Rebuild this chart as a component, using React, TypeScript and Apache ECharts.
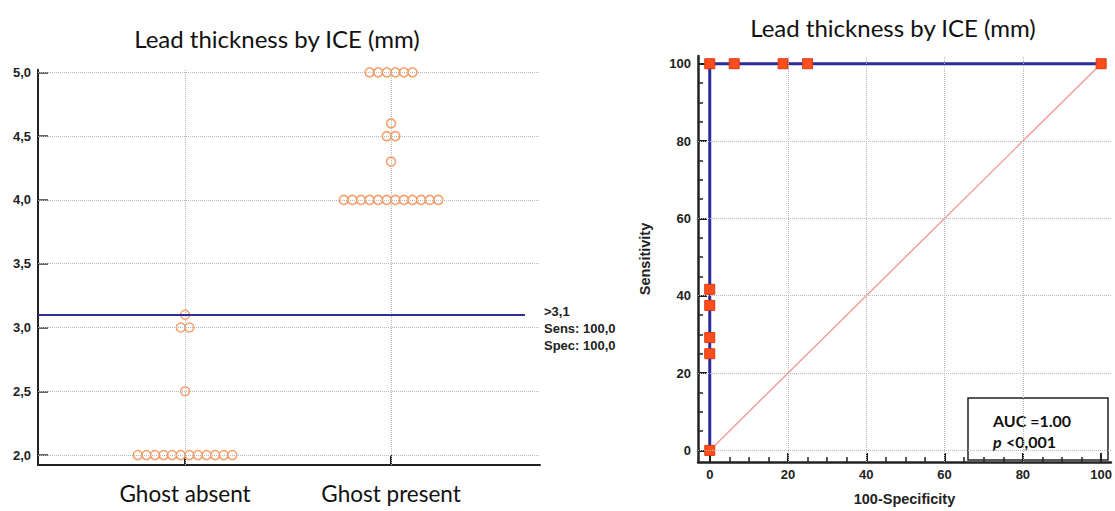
import React, { useEffect, useRef } from 'react';
import * as echarts from 'echarts';

// ---------- data ----------
const chartTitle = 'Lead thickness by ICE (mm)';
const groups = ['Ghost absent', 'Ghost present'];
const ghostAbsent = [2.0, 2.0, 2.0, 2.0, 2.0, 2.0, 2.0, 2.0, 2.0, 2.0, 2.0, 2.0, 2.5, 3.0, 3.0, 3.1];
const ghostPresent = [
  4.0, 4.0, 4.0, 4.0, 4.0, 4.0, 4.0, 4.0, 4.0, 4.0, 4.0, 4.0,
  4.3, 4.5, 4.5, 4.6,
  5.0, 5.0, 5.0, 5.0, 5.0, 5.0,
];
const leftYTicks = [2.0, 2.5, 3.0, 3.5, 4.0, 4.5, 5.0];
const cutoff = 3.1;
const cutoffLabel = ['>3,1', 'Sens: 100,0', 'Spec: 100,0'];

const rocFpr = [0, 0, 0, 0, 0, 0, 6.25, 18.75, 25, 100];
const rocTpr = [0, 25, 29.17, 37.5, 41.67, 100, 100, 100, 100, 100];
const diagonalX = [0, 100];
const diagonalY = [0, 100];
const rocTicks = [0, 20, 40, 60, 80, 100];
const rocMinorTicks = [0, 5, 10, 15, 20, 25, 30, 35, 40, 45, 50, 55, 60, 65, 70, 75, 80, 85, 90, 95, 100];
const rocGrid = [20, 40, 60, 80];
const aucText = 'AUC =1.00';
const pSymbol = 'p';
const pText = '<0,001';

// beeswarm layout: spread equal values side by side around the group centre
function swarm(values: number[], cat: number, step: number) {
  const counts = new Map<number, number>();
  values.forEach((v) => counts.set(v, (counts.get(v) || 0) + 1));
  const seen = new Map<number, number>();
  return values.map((v) => {
    const n = counts.get(v) || 1;
    const i = seen.get(v) || 0;
    seen.set(v, i + 1);
    return [cat + (i - (n - 1) / 2) * step, v];
  });
}

const ARIAL = '"Liberation Sans", Arial, sans-serif';
const CAL = 'Lato, "Open Sans", sans-serif';

export default function App() {
  const ref = useRef<HTMLDivElement>(null);
  useEffect(() => {
    document.body.style.margin = '0';
    if (!ref.current) return;
    const chart = echarts.init(ref.current, undefined, { renderer: 'svg' });
    const lxMin = -0.714;
    const lxMax = 1.723;
    const dotStep = 0.0417;
    const dotStyle = { color: '#ffffff', borderColor: '#f68a48', borderWidth: 1.6 };
    const gridLine = { type: 'dotted', color: '#b8b8b8', width: 1 };
    const axisName = { fontFamily: ARIAL, fontWeight: 'bold', fontSize: 14.5, color: '#222' };

    const option: any = {
      animation: false,
      grid: [
        { left: 38, top: 69.8, width: 502, bottom: 46 },
        { left: 698, top: 56, right: 0, bottom: 41.2 },
      ],
      xAxis: [
        {
          type: 'value', gridIndex: 0, min: lxMin, max: lxMax,
          axisLine: { show: true, onZero: false, lineStyle: { color: '#222', width: 2 } },
          axisTick: { show: true, inside: true, length: 10, customValues: [0, 1], lineStyle: { color: '#222', width: 2 } },
          axisLabel: {
            customValues: [0, 1], formatter: (v: number) => groups[Math.round(v)],
            fontFamily: CAL, fontSize: 22.5, color: '#111', margin: 17,
          },
          splitLine: { show: false },
        },
        {
          type: 'value', gridIndex: 1, min: -3, max: 102.5, position: 'bottom',
          axisLine: { show: true, onZero: false, lineStyle: { color: '#222', width: 2.5 } },
          axisTick: { show: true, inside: true, length: 9, customValues: rocTicks, lineStyle: { color: '#222', width: 2 } },
          axisLabel: { customValues: rocTicks, fontFamily: ARIAL, fontWeight: 'bold', fontSize: 13, color: '#222', margin: 6 },
          splitLine: { show: false },
          name: '100-Specificity', nameLocation: 'middle', nameGap: 29,
          nameTextStyle: axisName,
        },
        {
          type: 'value', gridIndex: 1, min: -3, max: 102.5, position: 'bottom',
          axisLine: { show: false, onZero: false },
          axisTick: { show: true, inside: true, length: 5, customValues: rocMinorTicks, lineStyle: { color: '#222', width: 1.5 } },
          axisLabel: { show: false },
          splitLine: { show: false },
        },
      ],
      yAxis: [
        {
          type: 'value', gridIndex: 0, min: 1.922, max: 5.02,
          axisLine: { show: true, onZero: false, lineStyle: { color: '#222', width: 2 } },
          axisTick: { show: true, inside: true, length: 10, customValues: leftYTicks, lineStyle: { color: '#333', width: 1.5 } },
          axisLabel: {
            customValues: leftYTicks, formatter: (v: number) => v.toFixed(1).replace('.', ','),
            fontFamily: ARIAL, fontWeight: 'bold', fontSize: 13, color: '#222', margin: 7,
          },
          splitLine: { show: false },
        },
        {
          type: 'value', gridIndex: 1, min: -3, max: 102, position: 'left',
          axisLine: { show: true, onZero: false, lineStyle: { color: '#222', width: 2.5 } },
          axisTick: { show: true, inside: true, length: 9, customValues: rocTicks, lineStyle: { color: '#222', width: 2 } },
          axisLabel: { customValues: rocTicks, fontFamily: ARIAL, fontWeight: 'bold', fontSize: 13, color: '#222', margin: 7 },
          splitLine: { show: false },
          name: 'Sensitivity', nameLocation: 'middle', nameGap: 46, nameRotate: 90,
          nameTextStyle: axisName,
        },
        {
          type: 'value', gridIndex: 1, min: -3, max: 102, position: 'left',
          axisLine: { show: false, onZero: false },
          axisTick: { show: true, inside: true, length: 5, customValues: rocMinorTicks, lineStyle: { color: '#222', width: 1.5 } },
          axisLabel: { show: false },
          splitLine: { show: false },
        },
      ],
      series: [
        // left grid lines
        {
          type: 'line', xAxisIndex: 0, yAxisIndex: 0, data: [], z: 1,
          markLine: {
            silent: true, symbol: ['none', 'none'], label: { show: false }, lineStyle: gridLine,
            data: [...leftYTicks.map((v) => ({ yAxis: v })), { xAxis: 0 }, { xAxis: 1 }],
          },
        },
        // cut-off line
        {
          type: 'line', xAxisIndex: 0, yAxisIndex: 0, data: [], z: 2,
          markLine: {
            silent: true, symbol: ['none', 'none'], label: { show: false },
            lineStyle: { type: 'solid', color: '#2d2d92', width: 2 },
            data: [[{ coord: [lxMin, cutoff] }, { coord: [1.65, cutoff] }]],
          },
        },
        {
          type: 'scatter', xAxisIndex: 0, yAxisIndex: 0, z: 3, symbol: 'circle', symbolSize: 9,
          itemStyle: dotStyle, data: swarm(ghostAbsent, 0, dotStep),
        },
        {
          type: 'scatter', xAxisIndex: 0, yAxisIndex: 0, z: 3, symbol: 'circle', symbolSize: 9,
          itemStyle: dotStyle, data: swarm(ghostPresent, 1, dotStep),
        },
        // right grid lines
        {
          type: 'line', xAxisIndex: 1, yAxisIndex: 1, data: [], z: 1,
          markLine: {
            silent: true, symbol: ['none', 'none'], label: { show: false }, lineStyle: gridLine,
            data: [
              { yAxis: 0 },
              ...rocGrid.map((v) => ({ yAxis: v })),
              ...rocGrid.map((v) => ({ xAxis: v })),
            ],
          },
        },
        // chance diagonal
        {
          type: 'line', xAxisIndex: 1, yAxisIndex: 1, z: 2, symbol: 'none', silent: true,
          lineStyle: { color: '#f29a9a', width: 1.4 },
          emphasis: { disabled: true },
          data: diagonalX.map((x, i) => [x, diagonalY[i]]),
        },
        {
          type: 'line', xAxisIndex: 1, yAxisIndex: 1, z: 4, clip: false,
          symbol: 'rect', symbolSize: 10, showAllSymbol: true,
          lineStyle: { color: '#2b2b9a', width: 3 },
          itemStyle: { color: '#ff4d1c', borderColor: '#dd3a12', borderWidth: 1 },
          data: rocFpr.map((x, i) => [x, rocTpr[i]]),
        },
      ],
      graphic: [
        {
          type: 'text', x: 277, y: 38.5,
          style: { text: chartTitle, align: 'center', verticalAlign: 'middle', fontFamily: CAL, fontSize: 24, fill: '#111' },
        },
        {
          type: 'text', x: 893, y: 27,
          style: { text: chartTitle, align: 'center', verticalAlign: 'middle', fontFamily: CAL, fontSize: 24, fill: '#111' },
        },
        {
          type: 'text', x: 544, y: 303,
          style: {
            text: cutoffLabel.join('\n'), align: 'left', verticalAlign: 'top', lineHeight: 17,
            fontFamily: ARIAL, fontWeight: 'bold', fontSize: 13, fill: '#222',
          },
        },
        {
          type: 'group', z: 100,
          children: [
            {
              type: 'rect', shape: { x: 968, y: 398, width: 140, height: 62 },
              style: { fill: '#ffffff', stroke: '#222', lineWidth: 1.5 },
            },
            {
              type: 'text', x: 993, y: 420,
              style: { text: aucText, align: 'left', verticalAlign: 'middle', fontFamily: CAL, fontWeight: 'bold', fontSize: 16, fill: '#111' },
            },
            {
              type: 'text', x: 993, y: 441,
              style: { text: pSymbol, align: 'left', verticalAlign: 'middle', fontFamily: CAL, fontWeight: 'bold', fontStyle: 'italic', fontSize: 16, fill: '#111' },
            },
            {
              type: 'text', x: 1006, y: 441,
              style: { text: pText, align: 'left', verticalAlign: 'middle', fontFamily: CAL, fontWeight: 'bold', fontSize: 16, fill: '#111' },
            },
          ],
        },
      ],
    };
    chart.setOption(option);
    return () => chart.dispose();
  }, []);
  return <div ref={ref} style={{ width: 1115, height: 511 }} />;
}
